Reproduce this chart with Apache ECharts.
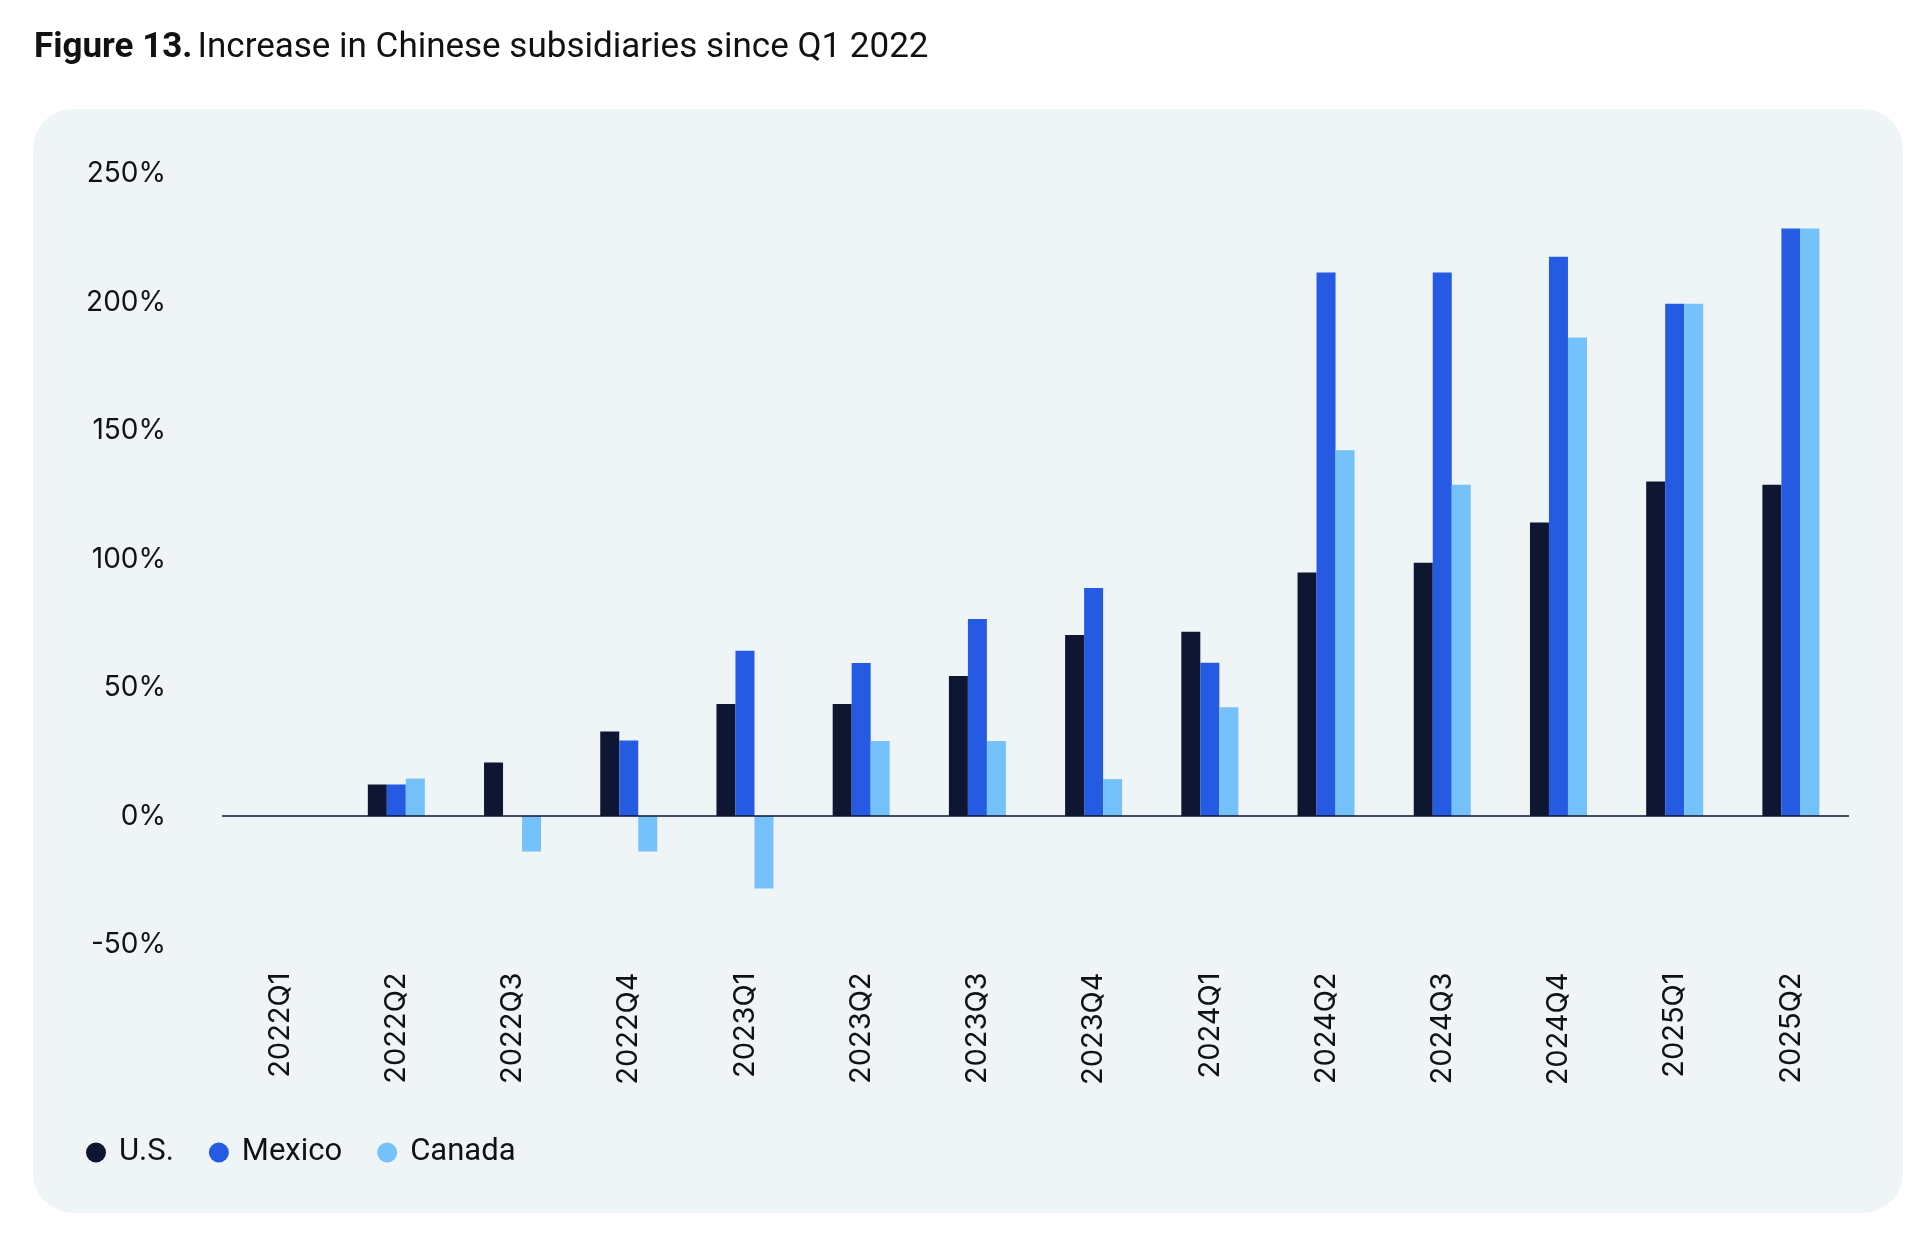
<!DOCTYPE html>
<html>
<head>
<meta charset="utf-8">
<script src="https://cdn.jsdelivr.net/npm/echarts@6/dist/echarts.min.js"></script>
<style>
  html, body { margin: 0; padding: 0; background: #ffffff; }
  #chart { width: 1920px; height: 1249px; }
</style>
</head>
<body>
<div id="chart"></div>
<script>
const categories = ['2022Q1','2022Q2','2022Q3','2022Q4','2023Q1','2023Q2','2023Q3','2023Q4','2024Q1','2024Q2','2024Q3','2024Q4','2025Q1','2025Q2'];
const usValues = [0, 12.3, 20.9, 32.9, 43.6, 43.6, 54.5, 70.5, 71.8, 94.8, 98.6, 114.3, 130.3, 129.0];
const mexicoValues = [0, 12.3, 0, 29.4, 64.4, 59.6, 76.7, 88.8, 59.7, 211.6, 211.6, 217.8, 199.5, 228.8];
const canadaValues = [0, 14.6, -13.8, -13.8, -28.2, 29.2, 29.2, 14.4, 42.4, 142.4, 129.0, 186.3, 199.5, 228.8];
const seriesNames = ['U.S.', 'Mexico', 'Canada'];
const yTicks = { min: -50, max: 250, interval: 50 };

const colors = ['#0E1631', '#255BE3', '#75C2FA'];
const tickFont = 'Inter, "Noto Sans", sans-serif';
const textFont = 'Roboto, "Noto Sans", sans-serif';

const chart = echarts.init(document.getElementById('chart'), null, { renderer: 'canvas' });

function barSeries(name, data, color, extra) {
  return Object.assign({
    name: name,
    type: 'bar',
    data: data,
    barWidth: 19,
    barGap: '0%',
    itemStyle: { color: color },
    emphasis: { disabled: true },
    animation: false
  }, extra || {});
}

chart.setOption({
  animation: false,
  backgroundColor: '#ffffff',
  graphic: [{
    type: 'rect',
    z: -10,
    shape: { x: 33, y: 109, width: 1870, height: 1104, r: 40 },
    style: { fill: '#EFF4F7' }
  }],
  title: {
    left: 34,
    top: 31,
    padding: 0,
    text: '{b|Figure 13.} {r|Increase in Chinese subsidiaries since Q1 2022}',
    textStyle: {
      rich: {
        b: { fontFamily: textFont, fontSize: 35, fontWeight: 'bold', color: '#111111' },
        r: { fontFamily: textFont, fontSize: 35, fontWeight: 'normal', color: '#111111' }
      }
    }
  },
  legend: {
    left: 86,
    top: 1137,
    padding: 0,
    itemWidth: 20,
    itemHeight: 20,
    itemGap: 35,
    icon: 'circle',
    data: seriesNames,
    textStyle: {
      fontFamily: textFont,
      fontSize: 31,
      color: '#111111',
      padding: [0, 0, 0, 8]
    }
  },
  grid: {
    left: 222,
    right: 71,
    top: 174,
    bottom: 304.5,
    containLabel: false
  },
  xAxis: {
    type: 'category',
    data: categories,
    axisLine: { show: false, onZero: false },
    axisTick: { show: false },
    axisLabel: {
      rotate: 90,
      margin: 28,
      fontFamily: tickFont,
      fontSize: 29,
      color: '#111111',
      interval: 0
    },
    splitLine: { show: false }
  },
  yAxis: {
    type: 'value',
    min: yTicks.min,
    max: yTicks.max,
    interval: yTicks.interval,
    axisLine: { show: false },
    axisTick: { show: false },
    splitLine: { show: false },
    axisLabel: {
      margin: 56,
      fontFamily: tickFont,
      fontSize: 28,
      color: '#111111',
      formatter: function (v) { return v + '%'; }
    }
  },
  series: [
    barSeries(seriesNames[0], usValues, colors[0], {
      markLine: {
        silent: true,
        symbol: 'none',
        label: { show: false },
        lineStyle: { color: '#0E1631', width: 1.5, type: 'solid' },
        data: [{ yAxis: 0 }],
        animation: false
      }
    }),
    barSeries(seriesNames[1], mexicoValues, colors[1]),
    barSeries(seriesNames[2], canadaValues, colors[2])
  ]
});
</script>
</body>
</html>
